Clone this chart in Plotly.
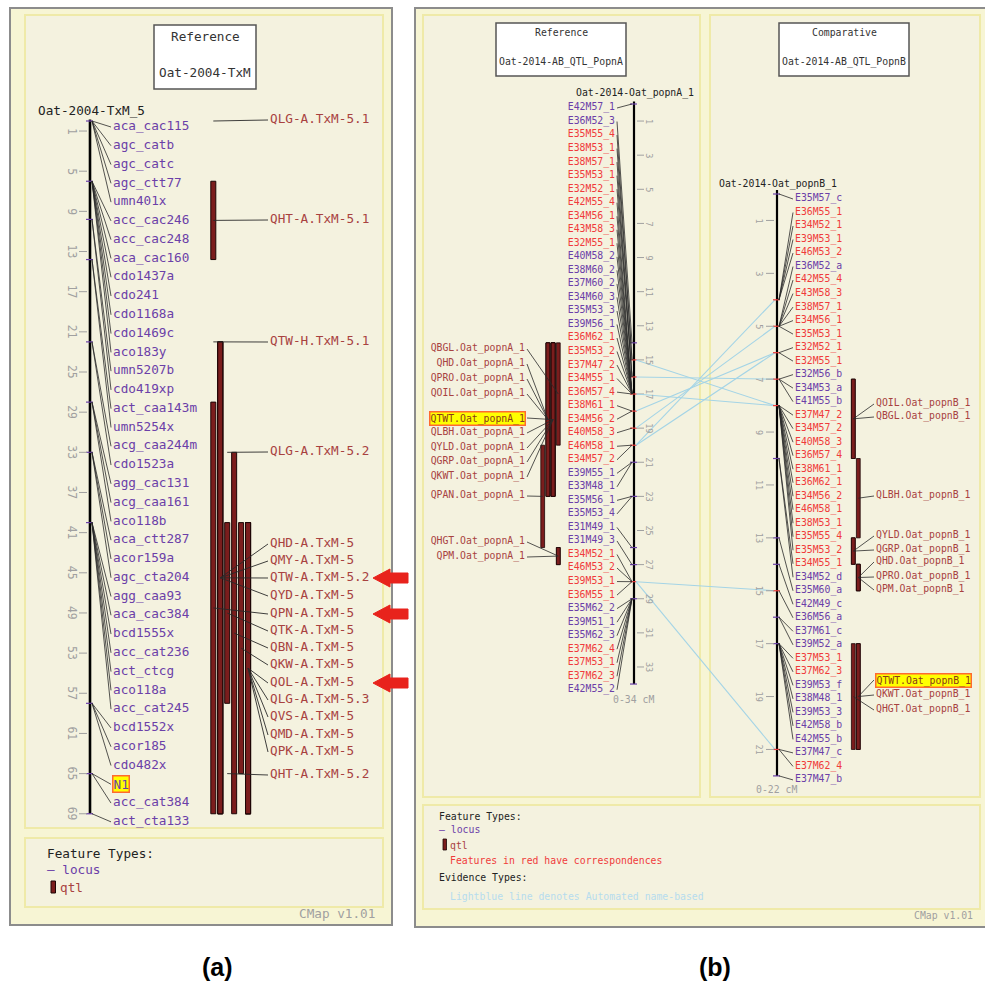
import plotly.graph_objects as go

W, H = 985, 986

# ====================== DATA ======================
# ---- panel (a): Oat-2004-TxM_5 ----
a_title = ["Reference", "Oat-2004-TxM"]
a_map_name = "Oat-2004-TxM_5"
a_map_len = 69
a_loci = ["aca_cac115", "agc_catb", "agc_catc", "agc_ctt77", "umn401x", "acc_cac246",
          "acc_cac248", "aca_cac160", "cdo1437a", "cdo241", "cdo1168a", "cdo1469c",
          "aco183y", "umn5207b", "cdo419xp", "act_caa143m", "umn5254x", "acg_caa244m",
          "cdo1523a", "agg_cac131", "acg_caa161", "aco118b", "aca_ctt287", "acor159a",
          "agc_cta204", "agg_caa93", "aca_cac384", "bcd1555x", "acc_cat236", "act_ctcg",
          "aco118a", "acc_cat245", "bcd1552x", "acor185", "cdo482x", "N1",
          "acc_cat384", "act_cta133"]
a_loci_cm = [0, 0, 0, 0, 0, 6, 6, 6, 6, 6, 6, 6, 6, 9.8, 9.8, 13.8, 13.8, 22, 22,
             28, 28, 28, 33, 33, 33, 40, 40, 40, 40, 40, 40, 40, 58, 58, 58, 65, 65, 69]
a_highlight = ["N1"]
a_qtl = ["QLG-A.TxM-5.1", "QHT-A.TxM-5.1", "QTW-H.TxM-5.1", "QLG-A.TxM-5.2",
         "QHD-A.TxM-5", "QMY-A.TxM-5", "QTW-A.TxM-5.2", "QYD-A.TxM-5", "QPN-A.TxM-5",
         "QTK-A.TxM-5", "QBN-A.TxM-5", "QKW-A.TxM-5", "QOL-A.TxM-5", "QLG-A.TxM-5.3",
         "QVS-A.TxM-5", "QMD-A.TxM-5", "QPK-A.TxM-5", "QHT-A.TxM-5.2"]
a_qtl_start = [0, 6, 22, 33, 22, 22, 22, 22, 28, 40, 33, 40, 40, 40, 40, 40, 40, 65]
a_qtl_end = [0, 13.8, 22, 33, 69, 69, 69, 69, 69, 58, 69, 65, 69, 69, 69, 69, 69, 65]
a_ticks = [1, 5, 9, 13, 17, 21, 25, 29, 33, 37, 41, 45, 49, 53, 57, 61, 65, 69]
a_arrow_to = ["QTW-A.TxM-5.2", "QPN-A.TxM-5", "QOL-A.TxM-5"]

# ---- panel (b): reference map popnA ----
b_title = ["Reference", "Oat-2014-AB_QTL_PopnA"]
b_map_name = "Oat-2014-Oat_popnA_1"
b_map_len = 34
b_loci = ["E42M57_1", "E36M52_3", "E35M55_4", "E38M53_1", "E38M57_1", "E35M53_1",
          "E32M52_1", "E42M55_4", "E34M56_1", "E43M58_3", "E32M55_1", "E40M58_2",
          "E38M60_2", "E37M60_2", "E34M60_3", "E35M53_3", "E39M56_1", "E36M62_1",
          "E35M53_2", "E37M47_2", "E34M55_1", "E36M57_4", "E38M61_1", "E34M56_2",
          "E40M58_3", "E46M58_1", "E34M57_2", "E39M55_1", "E33M48_1", "E35M56_1",
          "E35M53_4", "E31M49_1", "E31M49_3", "E34M52_1", "E46M53_2", "E39M53_1",
          "E36M55_1", "E35M62_2", "E39M51_1", "E35M62_3", "E37M62_4", "E37M53_1",
          "E37M62_3", "E42M55_2"]
b_loci_cm = [0, 14, 15, 15, 16, 16, 16, 17, 17, 17, 17, 17, 17, 17, 17, 17, 17, 17,
             17, 17, 17, 17, 18, 18, 19, 20, 20, 21, 21, 23, 23, 26, 27, 28, 28, 28,
             28, 29, 29, 29, 29, 29, 29, 29]
b_qtl = ["QBGL.Oat_popnA_1", "QHD.Oat_popnA_1", "QPRO.Oat_popnA_1", "QOIL.Oat_popnA_1",
         "QTWT.Oat_popnA_1", "QLBH.Oat_popnA_1", "QYLD.Oat_popnA_1", "QGRP.Oat_popnA_1",
         "QKWT.Oat_popnA_1", "QPAN.Oat_popnA_1", "QHGT.Oat_popnA_1", "QPM.Oat_popnA_1"]
b_qtl_start = [14, 14, 14, 14, 14, 14, 14, 14, 14, 20, 26, 26]
b_qtl_end = [20, 23, 23, 23, 23, 23, 23, 23, 23, 26, 27, 27]
b_ticks = [1, 3, 5, 7, 9, 11, 13, 15, 17, 19, 21, 23, 25, 27, 29, 31, 33]

# ---- panel (b): comparative map popnB ----
c_title = ["Comparative", "Oat-2014-AB_QTL_PopnB"]
c_map_name = "Oat-2014-Oat_popnB_1"
c_map_len = 22
c_loci = ["E35M57_c", "E36M55_1", "E34M52_1", "E39M53_1", "E46M53_2", "E36M52_a",
          "E42M55_4", "E43M58_3", "E38M57_1", "E34M56_1", "E35M53_1", "E32M52_1",
          "E32M55_1", "E32M56_b", "E34M53_a", "E41M55_b", "E37M47_2", "E34M57_2",
          "E40M58_3", "E36M57_4", "E38M61_1", "E36M62_1", "E34M56_2", "E46M58_1",
          "E38M53_1", "E35M55_4", "E35M53_2", "E34M55_1", "E34M52_d", "E35M60_a",
          "E42M49_c", "E36M56_a", "E37M61_c", "E39M52_a", "E37M53_1", "E37M62_3",
          "E39M53_f", "E38M48_1", "E39M53_3", "E42M58_b", "E42M55_b", "E37M47_c",
          "E37M62_4", "E37M47_b"]
c_loci_cm = [0, 4, 4, 4, 4, 5, 5, 5, 5, 5, 5, 6, 6, 7, 7, 7, 8, 8, 8, 8, 8, 8, 8, 8,
             8, 8, 8, 10, 10, 13, 14, 15, 16, 16, 17, 17, 17, 17, 17, 17, 17, 21, 21, 22]
c_qtl = ["QOIL.Oat_popnB_1", "QBGL.Oat_popnB_1", "QLBH.Oat_popnB_1", "QYLD.Oat_popnB_1",
         "QGRP.Oat_popnB_1", "QHD.Oat_popnB_1", "QPRO.Oat_popnB_1", "QPM.Oat_popnB_1",
         "QTWT.Oat_popnB_1", "QKWT.Oat_popnB_1", "QHGT.Oat_popnB_1"]
c_qtl_start = [7, 7, 10, 13, 13, 14, 14, 14, 17, 17, 17]
c_qtl_end = [10, 10, 13, 14, 14, 15, 15, 15, 21, 21, 21]
c_ticks = [1, 3, 5, 7, 9, 11, 13, 15, 17, 19, 21]
bc_highlight = ["QTWT.Oat_popnA_1", "QTWT.Oat_popnB_1"]

# correspondences (popnA cM -> popnB cM), lightblue lines
corr_b_cm = [15, 16, 17, 18, 19, 20, 20, 28, 28]
corr_c_cm = [8, 7, 8, 6, 5, 4, 6, 15, 21]

# ====================== LAYOUT / STYLE ======================
MONO = "DejaVu Sans Mono"
PURPLE = "#6b40a8"
RED = "#f03b3b"
QTLC = "#a8423f"
GRAY = "#a0a0a0"
LINEC = "#2a2a2a"
BAR_FILL = "#7b1d1d"
BAR_EDGE = "#1c0606"
BLUE = "#a4d4e6"
OUTER = "#f7f5d4"
INNER = "#f4f2df"
INNER_EDGE = "#efeaa8"
FA, FB = 12.7, 9.8

MAPS = {
    "a": dict(top=121, ppc=10.04, ax="y2"),
    "b": dict(top=104, ppc=17.06, ax="y3"),
    "c": dict(top=194, ppc=26.45, ax="y4"),
}


def axis_range(m):
    return [(H - m["top"]) / m["ppc"], -m["top"] / m["ppc"]]


def px2cm(m, px):
    return (px - m["top"]) / m["ppc"]


def cm2px(m, c):
    return m["top"] + c * m["ppc"]


def segs(pairs):
    xs, ys = [], []
    for (x0, y0, x1, y1) in pairs:
        xs += [x0, x1, None]
        ys += [y0, y1, None]
    return xs, ys


fig = go.Figure()
shapes = []
annotations = []


def add_rect(x0, y0, x1, y1, fill, edge, lw):
    shapes.append(dict(type="rect", xref="x", yref="y", x0=x0, y0=y0, x1=x1, y1=y1,
                       fillcolor=fill, line=dict(color=edge, width=lw), layer="below"))


def add_text(x, y, text, size, color, xanchor="left", angle=0, family=MONO, **kw):
    annotations.append(dict(x=x, y=y, xref="x", yref="y", text=text, showarrow=False,
                            xanchor=xanchor, yanchor="middle", textangle=angle,
                            font=dict(family=family, size=size, color=color), **kw))


def add_lines(xs, ys, ax, color, width):
    fig.add_trace(go.Scatter(x=xs, y=ys, yaxis=ax, mode="lines",
                             line=dict(color=color, width=width), hoverinfo="skip",
                             showlegend=False))


def add_labels(xs, ys, texts, colors, size, pos):
    fig.add_trace(go.Scatter(x=xs, y=ys, mode="text", text=texts, textposition=pos,
                             textfont=dict(family=MONO, size=size, color=colors),
                             hoverinfo="skip", showlegend=False, cliponaxis=False))


# ---------- backgrounds ----------
add_rect(10, 8, 392, 925, OUTER, "#8c8c8c", 2)
add_rect(25, 15, 383, 828, INNER, INNER_EDGE, 2)
add_rect(25, 838, 383, 907, INNER, INNER_EDGE, 2)
add_rect(415, 8, 992, 927, OUTER, "#8c8c8c", 2)
add_rect(423, 15, 700, 797, INNER, INNER_EDGE, 2)
add_rect(710, 15, 980, 797, INNER, INNER_EDGE, 2)
add_rect(423, 805, 980, 909, INNER, INNER_EDGE, 2)
# title boxes
add_rect(154, 25, 256, 89, "white", "#555555", 1.5)
add_rect(496, 23, 626, 76, "white", "#555555", 1.5)
add_rect(779, 23, 909, 76, "white", "#555555", 1.5)
add_text(205, 36, a_title[0], FA, "#333", "center")
add_text(205, 72, a_title[1], FA, "#333", "center")
add_text(561, 32, b_title[0], FB, "#333", "center")
add_text(561, 62, b_title[1], FB, "#333", "center")
add_text(844, 32, c_title[0], FB, "#333", "center")
add_text(844, 62, c_title[1], FB, "#333", "center")


def draw_map(key, loci, cms, length, bx, side, label_y0, label_dy, label_x,
             ticks, tick_side, size, corr_set, width):
    m = MAPS[key]
    ax = m["ax"]
    # backbone
    add_lines([bx, bx], [-0.15, length], ax, "black", width)
    # locus ticks on backbone
    uniq = sorted(set(cms) | {0, length})
    for c in uniq:
        col = RED if c in corr_set else PURPLE
        add_lines([bx - 4, bx + 3], [c, c], ax, col, 1.2)
    # scale ticks
    txs, tys = [], []
    for t in ticks:
        if tick_side < 0:
            txs += [bx - 11, bx - 3, None]
        else:
            txs += [bx + 3, bx + 10, None]
        tys += [t, t, None]
        lx = bx - 18 if tick_side < 0 else bx + 15
        add_text(lx, cm2px(m, t), str(t), size - 1.3, GRAY, "center", angle=90)
    add_lines(txs, tys, ax, GRAY, 1)
    # connectors and labels
    label_y = [label_y0 + i * label_dy for i in range(len(loci))]
    pairs = []
    for c, ly in zip(cms, label_y):
        if side > 0:
            pairs.append((bx + 2, c, label_x - 2, px2cm(m, ly)))
        else:
            pairs.append((bx - 2, c, label_x + 2, px2cm(m, ly)))
    xs, ys = segs(pairs)
    add_lines(xs, ys, ax, LINEC, 0.8)
    return label_y


# ---------- panel (a) map ----------
a_label_y = draw_map("a", a_loci, a_loci_cm, a_map_len, 90, +1, 127, 18.78, 113,
                     a_ticks, -1, FA, set(), 2.6)
a_text = ["" if n in a_highlight else n for n in a_loci]
add_labels([113] * len(a_loci), a_label_y, a_text, [PURPLE] * len(a_loci), FA, "middle right")
for n, ly in zip(a_loci, a_label_y):
    if n in a_highlight:
        add_text(112, ly, n, FA, PURPLE, "left", bgcolor="#ffff00", bordercolor="#ff6a30",
                 borderwidth=1.5, borderpad=0)
add_text(36, 110, a_map_name, FA, "#222", "left")

# ---------- panel (a) QTLs ----------
a_qtl_col = [0, 0, 0, 2, 1, 1, 1, 1, 0, 2, 3, 4, 5, 5, 5, 5, 5, 2]
a_qtl_label_y = [120, 220, 342, 452, 544, 561, 578, 596, 614, 631, 648, 665, 683, 700,
                 717, 735, 752, 775]
A_COL0, A_COLD, A_LBLX = 213.3, 6.95, 270
mA = MAPS["a"]
bx_, bh_, bb_ = [], [], []
pairs = []
for n, s, e, k, ly in zip(a_qtl, a_qtl_start, a_qtl_end, a_qtl_col, a_qtl_label_y):
    cx = A_COL0 + A_COLD * k
    if e > s:
        bx_.append(cx); bb_.append(s); bh_.append(e - s)
    pairs.append((cx, (s + e) / 2, A_LBLX - 2, px2cm(mA, ly)))
fig.add_trace(go.Bar(x=bx_, y=bh_, base=bb_, width=[5] * len(bx_), yaxis="y2",
                     marker=dict(color=BAR_FILL, line=dict(color=BAR_EDGE, width=1)),
                     hoverinfo="skip", showlegend=False))
xs, ys = segs(pairs)
add_lines(xs, ys, "y2", LINEC, 0.9)
add_labels([A_LBLX] * len(a_qtl), a_qtl_label_y, a_qtl, [QTLC] * len(a_qtl), FA, "middle right")

# red arrows (template relative to the arrow tip)
arrow_tpl = [(0, 0), (17, -9), (17, -5), (35, -5), (35, 5), (17, 5), (17, 9), (0, 0)]
for tgt in a_arrow_to:
    ly = a_qtl_label_y[a_qtl.index(tgt)]
    fig.add_trace(go.Scatter(x=[373 + dx for dx, dy in arrow_tpl],
                             y=[ly + dy for dx, dy in arrow_tpl], mode="lines",
                             fill="toself", fillcolor="#e8231c",
                             line=dict(color="#e8231c", width=1), hoverinfo="skip",
                             showlegend=False))

# legend (a)
add_text(45, 853, "Feature Types:", FA, "#222")
add_text(45, 869, "— locus", FA, PURPLE)
shapes.append(dict(type="rect", xref="x", yref="y", x0=51, x1=55.5, y0=881, y1=893,
                   fillcolor=BAR_FILL, line=dict(color=BAR_EDGE, width=1)))
add_text(58, 887, "qtl", FA, QTLC)
add_text(377, 913, "CMap v1.01", FA, GRAY, "right")

# ---------- panel (b) maps ----------
b_names, c_names = set(b_loci), set(c_loci)
corr_b_set, corr_c_set = set(corr_b_cm), set(corr_c_cm)
b_label_y = draw_map("b", b_loci, b_loci_cm, b_map_len, 634, -1, 108, 13.53, 615,
                     b_ticks, +1, FB, corr_b_set, 2.2)
add_labels([615] * len(b_loci), b_label_y, b_loci,
           [RED if n in c_names else PURPLE for n in b_loci], FB, "middle left")
add_text(574, 93, b_map_name, FB, "#222", "left")
add_text(633, 699, "0-%d cM" % b_map_len, FB, GRAY, "center")

c_label_y = draw_map("c", c_loci, c_loci_cm, c_map_len, 777, +1, 199, 13.51, 795,
                     c_ticks, -1, FB, corr_c_set, 2.2)
add_labels([795] * len(c_loci), c_label_y, c_loci,
           [RED if n in b_names else PURPLE for n in c_loci], FB, "middle right")
add_text(717, 184, c_map_name, FB, "#222", "left")
add_text(776, 789, "0-%d cM" % c_map_len, FB, GRAY, "center")

# correspondence lines (drawn in popnA axis units)
mB, mC = MAPS["b"], MAPS["c"]
pairs = [(636, cb, 775, px2cm(mB, cm2px(mC, cc))) for cb, cc in zip(corr_b_cm, corr_c_cm)]
xs, ys = segs(pairs)
add_lines(xs, ys, "y3", BLUE, 1.1)

# QTLs popnA
b_qtl_col = [3, 1, 1, 1, 2, 2, 2, 2, 2, 0, 3, 3]
b_qtl_label_y = [349, 364, 379, 394, 418, 433, 448, 462, 477, 496, 542, 557]
B_COL0, B_COLD, B_LBLX = 542.7, 5.2, 525
bx_, bh_, bb_, pairs = [], [], [], []
for n, s, e, k, ly in zip(b_qtl, b_qtl_start, b_qtl_end, b_qtl_col, b_qtl_label_y):
    cx = B_COL0 + B_COLD * k
    bx_.append(cx); bb_.append(s); bh_.append(e - s)
    pairs.append((cx, (s + e) / 2, B_LBLX + 2, px2cm(mB, ly)))
xs, ys = segs(pairs)
add_lines(xs, ys, "y3", LINEC, 0.8)
fig.add_trace(go.Bar(x=bx_, y=bh_, base=bb_, width=[3.8] * len(bx_), yaxis="y3",
                     marker=dict(color=BAR_FILL, line=dict(color=BAR_EDGE, width=0.8)),
                     hoverinfo="skip", showlegend=False))
add_labels([B_LBLX] * len(b_qtl), b_qtl_label_y,
           ["" if n in bc_highlight else n for n in b_qtl], [QTLC] * len(b_qtl), FB,
           "middle left")
for n, ly in zip(b_qtl, b_qtl_label_y):
    if n in bc_highlight:
        add_text(B_LBLX + 1, ly, n, FB, "#8a3a1a", "right", bgcolor="#ffff00",
                 bordercolor="#ff6a30", borderwidth=1.5, borderpad=0)

# QTLs popnB
c_qtl_col = [0, 0, 1, 0, 0, 1, 1, 1, 1, 1, 0]
c_qtl_label_y = [404, 417, 496, 536, 550, 562, 577, 590, 680, 695, 710]
C_COL0, C_COLD, C_LBLX = 853.3, 5.0, 876
bx_, bh_, bb_, pairs = [], [], [], []
for n, s, e, k, ly in zip(c_qtl, c_qtl_start, c_qtl_end, c_qtl_col, c_qtl_label_y):
    cx = C_COL0 + C_COLD * k
    bx_.append(cx); bb_.append(s); bh_.append(e - s)
    pairs.append((cx, (s + e) / 2, C_LBLX - 2, px2cm(mC, ly)))
xs, ys = segs(pairs)
add_lines(xs, ys, "y4", LINEC, 0.8)
fig.add_trace(go.Bar(x=bx_, y=bh_, base=bb_, width=[3.8] * len(bx_), yaxis="y4",
                     marker=dict(color=BAR_FILL, line=dict(color=BAR_EDGE, width=0.8)),
                     hoverinfo="skip", showlegend=False))
add_labels([C_LBLX] * len(c_qtl), c_qtl_label_y,
           ["" if n in bc_highlight else n for n in c_qtl], [QTLC] * len(c_qtl), FB,
           "middle right")
for n, ly in zip(c_qtl, c_qtl_label_y):
    if n in bc_highlight:
        add_text(C_LBLX - 1, ly, n, FB, "#8a3a1a", "left", bgcolor="#ffff00",
                 bordercolor="#ff6a30", borderwidth=1.5, borderpad=0)

# legend (b)
add_text(437, 816, "Feature Types:", FB, "#222")
add_text(437, 829, "— locus", FB, PURPLE)
shapes.append(dict(type="rect", xref="x", yref="y", x0=443, x1=446.5, y0=839, y1=850,
                   fillcolor=BAR_FILL, line=dict(color=BAR_EDGE, width=0.8)))
add_text(448, 845, "qtl", FB, QTLC)
add_text(448, 860, "Features in red have correspondences", FB, RED)
add_text(437, 877, "Evidence Types:", FB, "#222")
add_text(448, 896, "Lightblue line denotes Automated name-based", FB, "#b6dcee")
add_text(975, 915, "CMap v1.01", FB, GRAY, "right")

# captions
add_text(217, 967, "<b>(a)</b>", 25, "black", "center", family="Liberation Sans")
add_text(715, 967, "<b>(b)</b>", 25, "black", "center", family="Liberation Sans")

ax_common = dict(visible=False, fixedrange=True, domain=[0, 1], anchor="x")
fig.update_layout(
    width=W, height=H, autosize=False,
    margin=dict(l=0, r=0, t=0, b=0, pad=0),
    paper_bgcolor="white", plot_bgcolor="rgba(0,0,0,0)",
    barmode="overlay", showlegend=False,
    xaxis=dict(range=[0, W], visible=False, fixedrange=True, domain=[0, 1]),
    yaxis=dict(range=[H, 0], **ax_common),
    yaxis2=dict(range=axis_range(MAPS["a"]), **ax_common),
    yaxis3=dict(range=axis_range(MAPS["b"]), **ax_common),
    yaxis4=dict(range=axis_range(MAPS["c"]), **ax_common),
    shapes=shapes, annotations=annotations,
)
fig.write_html("out.html", config={"displayModeBar": False},
               post_script="document.body.style.margin='0';"
                           "document.body.style.overflow='hidden';")
